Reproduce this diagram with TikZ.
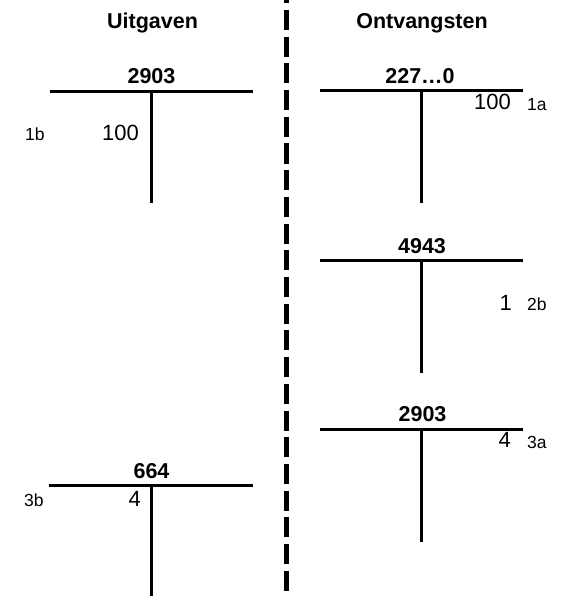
\documentclass[tikz,border=0pt]{standalone}
\usepackage{fontspec}
\setmainfont{Liberation Sans}
\begin{document}
\begin{tikzpicture}[x=1pt,y=-1pt,
  acc/.style={line width=3pt},
  divider/.style={line width=4.7pt, dash pattern=on 20pt off 6.7pt, dash phase=16.7pt},
  head/.style={font=\fontsize{21.5}{24}\selectfont\bfseries, inner sep=0pt, anchor=base},
  amt/.style={font=\fontsize{22}{24}\selectfont, inner sep=0pt},
  tag/.style={font=\fontsize{17.5}{20}\selectfont, inner sep=0pt, anchor=base west}]
\useasboundingbox (0,0) rectangle (569,596);
% divider
\coordinate (dtop) at (286.5,0);
\coordinate (dbot) at (286.5,596);
\draw[divider] (dtop) -- (dbot);
% column headers
\node[head] (hU) at (152.5,28.5) {Uitgaven};
\node[head] (hO) at (422,28.5) {Ontvangsten};
% T-account 1 (left)
\coordinate (a1l) at (49.5,91.5); \coordinate (a1r) at (253,91.5);
\coordinate (a1t) at (151.5,91.5); \coordinate (a1b) at (151.5,203);
\draw[acc] (a1l) -- (a1r); \draw[acc] (a1t) -- (a1b);
\node[head] (n1) at (151.5,84) {2903};
\node[amt, anchor=base east] (v1) at (139,141) {100};
\node[tag] (t1) at (25,141) {1b};
% T-account 2 (right top)
\coordinate (b1l) at (320,91); \coordinate (b1r) at (523,91);
\coordinate (b1t) at (421.7,91); \coordinate (b1b) at (421.7,203);
\draw[acc] (b1l) -- (b1r); \draw[acc] (b1t) -- (b1b);
\node[head] (n2) at (420,84) {227…0};
\node[amt, anchor=base east] (v2) at (511,110) {100};
\node[tag] (t2) at (527,111) {1a};
% T-account 3 (right middle)
\coordinate (c1l) at (320,260.7); \coordinate (c1r) at (523,260.7);
\coordinate (c1t) at (421.7,260.7); \coordinate (c1b) at (421.7,372.7);
\draw[acc] (c1l) -- (c1r); \draw[acc] (c1t) -- (c1b);
\node[head] (n3) at (422,253) {4943};
\node[amt, anchor=base east] (v3) at (512,310) {1};
\node[tag] (t3) at (527,310) {2b};
% T-account 4 (right bottom)
\coordinate (d1l) at (320,429.3); \coordinate (d1r) at (523,429.3);
\coordinate (d1t) at (421.7,429.3); \coordinate (d1b) at (421.7,541.7);
\draw[acc] (d1l) -- (d1r); \draw[acc] (d1t) -- (d1b);
\node[head] (n4) at (422.5,421) {2903};
\node[amt, anchor=base east] (v4) at (511,447) {4};
\node[tag] (t4) at (527,448) {3a};
% T-account 5 (left bottom)
\coordinate (e1l) at (49,485); \coordinate (e1r) at (253,485);
\coordinate (e1t) at (151.3,485); \coordinate (e1b) at (151.3,596);
\draw[acc] (e1l) -- (e1r); \draw[acc] (e1t) -- (e1b);
\node[head] (n5) at (151.5,478) {664};
\node[amt, anchor=base east] (v5) at (141,506) {4};
\node[tag] (t5) at (24,506.5) {3b};
\end{tikzpicture}
\end{document}
